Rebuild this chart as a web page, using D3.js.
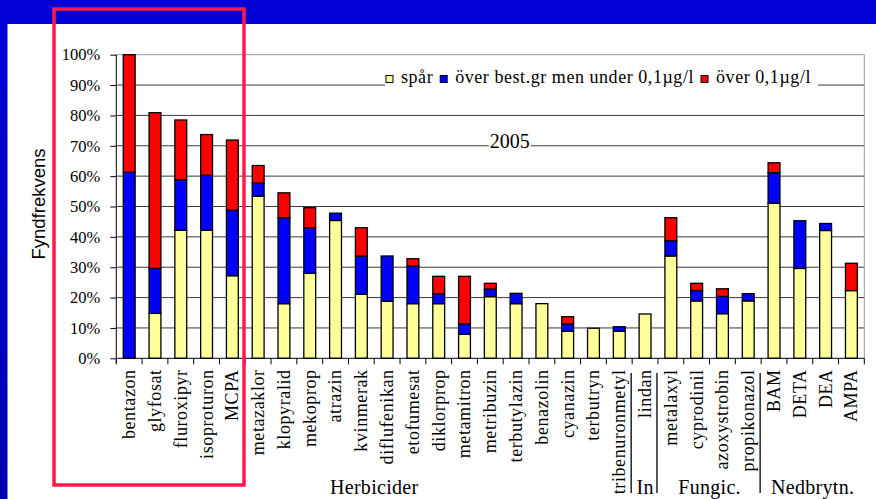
<!DOCTYPE html>
<html>
<head>
<meta charset="utf-8">
<style>
body { margin: 0; background: #0000d6; }
svg { display: block; }
</style>
<script src="https://cdn.jsdelivr.net/npm/d3@7/dist/d3.min.js"></script>
</head>
<body>
<svg width="876" height="499"></svg>
<script>
// values (percent of samples)
var names = ["bentazon","glyfosat","fluroxipyr","isoproturon","MCPA","metazaklor","klopyralid",
  "mekoprop","atrazin","kvinmerak","diflufenikan","etofumesat","diklorprop","metamitron",
  "metribuzin","terbutylazin","benazolin","cyanazin","terbutryn","tribenuronmetyl","lindan",
  "metalaxyl","cyprodinil","azoxystrobin","propikonazol","BAM","DETA","DEA","AMPA"];
var spar  = [0, 14.8, 42.2, 42.2, 27.2, 53.4, 18.0, 28.0, 45.4, 21.1, 18.8, 18.0, 18.0, 7.9,
  20.3, 18.0, 18.0, 8.9, 9.9, 8.9, 14.6, 33.7, 18.9, 14.7, 18.9, 51.1, 29.6, 42.1, 22.3];
var under = [61.3, 14.8, 16.6, 18.1, 21.6, 4.3, 28.3, 15.0, 2.4, 12.6, 14.9, 12.4, 3.2, 3.4,
  2.5, 3.4, 0, 2.4, 0, 1.5, 0, 5.0, 3.4, 5.7, 2.4, 10.0, 15.7, 2.3, 0];
var over  = [38.7, 51.3, 19.7, 13.4, 23.1, 5.8, 8.2, 6.6, 0, 9.3, 0, 2.4, 5.8, 15.7,
  1.9, 0, 0, 2.4, 0, 0, 0, 7.6, 2.4, 2.5, 0, 3.3, 0, 0, 9.0];
var seriesNames = ["spår", "över best.gr men under 0,1µg/l", "över 0,1µg/l"];
var seriesColors = ["#ffff99", "#0000ff", "#ff0000"];
var groups = [
  {label: "Herbicider", first: 0, last: 19},
  {label: "In", first: 20, last: 20},
  {label: "Fungic.", first: 21, last: 24},
  {label: "Nedbrytn.", first: 25, last: 28}
];
var yTicks = [0, 10, 20, 30, 40, 50, 60, 70, 80, 90, 100];

var SERIF = "'Liberation Serif', 'Times New Roman', serif";
var svg = d3.select("svg"),
    plotL = 116.3, plotR = 864.3, plotT = 54.7, plotB = 358.3;

// blue frame and white slide area
var grad = svg.append("defs").append("linearGradient")
    .attr("id", "side").attr("x1", 0).attr("y1", 0).attr("x2", 0).attr("y2", 1);
grad.append("stop").attr("offset", 0).attr("stop-color", "#0000d6");
grad.append("stop").attr("offset", 1).attr("stop-color", "#0000b0");
svg.append("rect").attr("width", 876).attr("height", 499).attr("fill", "#0000d6");
svg.append("rect").attr("y", 24).attr("width", 8).attr("height", 475).attr("fill", "url(#side)");
svg.append("rect").attr("x", 7.5).attr("y", 24).attr("width", 870).attr("height", 480).attr("fill", "#fff");

var rows = names.map(function(n, i) {
  return {name: n, "0": spar[i], "1": under[i], "2": over[i]};
});
var stack = d3.stack().keys(["0", "1", "2"])(rows);

var x = d3.scaleBand().domain(names).range([plotL, plotR]).paddingInner(0.54).paddingOuter(0.27);
var y = d3.scaleLinear().domain([0, 100]).range([plotB, plotT]);
var step = x.step();
function edge(k) { return plotL + k * step; }

var g = svg.append("g");

// gridlines
g.selectAll(".grid").data(yTicks.slice(1, -1)).enter().append("line")
    .attr("x1", plotL).attr("x2", plotR)
    .attr("y1", function(d) { return y(d); }).attr("y2", function(d) { return y(d); })
    .attr("stroke", "#3a3a3a").attr("stroke-width", 1);
// plot border top / right
g.append("path")
    .attr("d", "M" + plotL + "," + y(100) + "H" + plotR + "V" + plotB)
    .attr("fill", "none").attr("stroke", "#999").attr("stroke-width", 1);

// "2005" with white box behind
var yr = g.append("text")
    .attr("x", 509.7).attr("y", 148).attr("text-anchor", "middle")
    .style("font-family", SERIF).style("font-size", "20px").text("2005");
var bb = yr.node().getBBox();
g.insert("rect", function() { return yr.node(); })
    .attr("x", bb.x - 1).attr("y", bb.y + 2).attr("width", bb.width + 2).attr("height", bb.height - 4)
    .attr("fill", "#fff");

// legend: items chained one after the other
var lg = g.append("g");
var lgBox = lg.append("rect").attr("x", 385).attr("y", 64).attr("height", 27).attr("fill", "#fff");
var cx = 386;
seriesNames.forEach(function(s, i) {
  lg.append("rect").attr("x", cx).attr("y", 75.5).attr("width", 7).attr("height", 7)
      .attr("fill", seriesColors[i]).attr("stroke", "#000").attr("stroke-width", 1);
  var t = lg.append("text")
      .attr("x", cx + 15).attr("y", 83)
      .style("font-family", SERIF).style("font-size", "18px").style("letter-spacing", "0.55px")
      .text(s);
  cx += 15 + t.node().getComputedTextLength() + 7;
});
lgBox.attr("width", cx - 385);

// bars
var layer = g.selectAll(".layer").data(stack).enter().append("g")
    .attr("fill", function(d, i) { return seriesColors[i]; });
layer.selectAll("rect")
    .data(function(d) { return d.filter(function(p) { return p[1] - p[0] > 0; }); })
  .enter().append("rect")
    .attr("x", function(d) { return x(d.data.name); })
    .attr("width", x.bandwidth())
    .attr("y", function(d) { return y(d[1]); })
    .attr("height", function(d) { return y(d[0]) - y(d[1]); })
    .attr("stroke", "#000").attr("stroke-width", 1.3);

// y axis
var yAxis = g.append("g").attr("transform", "translate(" + plotL + ",0)")
    .call(d3.axisLeft(y).tickValues(yTicks).tickFormat(function(d) { return d + "%"; })
      .tickSize(6).tickPadding(10).tickSizeOuter(0));
yAxis.select(".domain").attr("d", "M0," + plotT + "V" + (plotB + 5));
yAxis.selectAll("text").style("font-family", SERIF).style("font-size", "16.5px").attr("fill", "#000");

// x axis with labels
var xAxis = g.append("g").attr("transform", "translate(0," + plotB + ")")
    .call(d3.axisBottom(x).tickSize(0).tickSizeOuter(0));
xAxis.select(".domain").attr("d", "M" + plotL + ",0H" + plotR);
xAxis.selectAll("text")
    .attr("transform", "rotate(-90)")
    .attr("x", -11).attr("y", 0).attr("dy", "0.33em")
    .style("text-anchor", "end")
    .style("font-family", SERIF).style("font-size", "18px").style("letter-spacing", "0.6px")
    .attr("fill", "#000");
// category boundary ticks
g.selectAll(".xt").data(d3.range(names.length + 1)).enter().append("line")
    .attr("x1", edge).attr("x2", edge)
    .attr("y1", plotB).attr("y2", plotB + 6)
    .attr("stroke", "#000");

// group separators and labels
g.selectAll(".sep").data(groups.slice(1)).enter().append("line")
    .attr("x1", function(d) { return edge(d.first) - 1; })
    .attr("x2", function(d) { return edge(d.first) - 1; })
    .attr("y1", 373).attr("y2", 493)
    .attr("stroke", "#000").attr("stroke-width", 1.3);
g.selectAll(".grp").data(groups).enter().append("text")
    .attr("x", function(d) { return (edge(d.first) + edge(d.last + 1)) / 2; })
    .attr("y", 494)
    .attr("text-anchor", "middle")
    .style("font-family", SERIF).style("font-size", "20px").style("letter-spacing", "0.3px")
    .text(function(d) { return d.label; });

// y title
svg.append("text")
    .attr("transform", "translate(45,204) rotate(-90)")
    .attr("text-anchor", "middle")
    .style("font-family", "'Liberation Sans', Arial, sans-serif")
    .style("font-size", "18.5px")
    .text("Fyndfrekvens");

// red highlight box
svg.append("rect")
    .attr("x", 54).attr("y", 9).attr("width", 190).attr("height", 476)
    .attr("fill", "none").attr("stroke", "#ff1a4a").attr("stroke-width", 3.5);
</script>
</body>
</html>
